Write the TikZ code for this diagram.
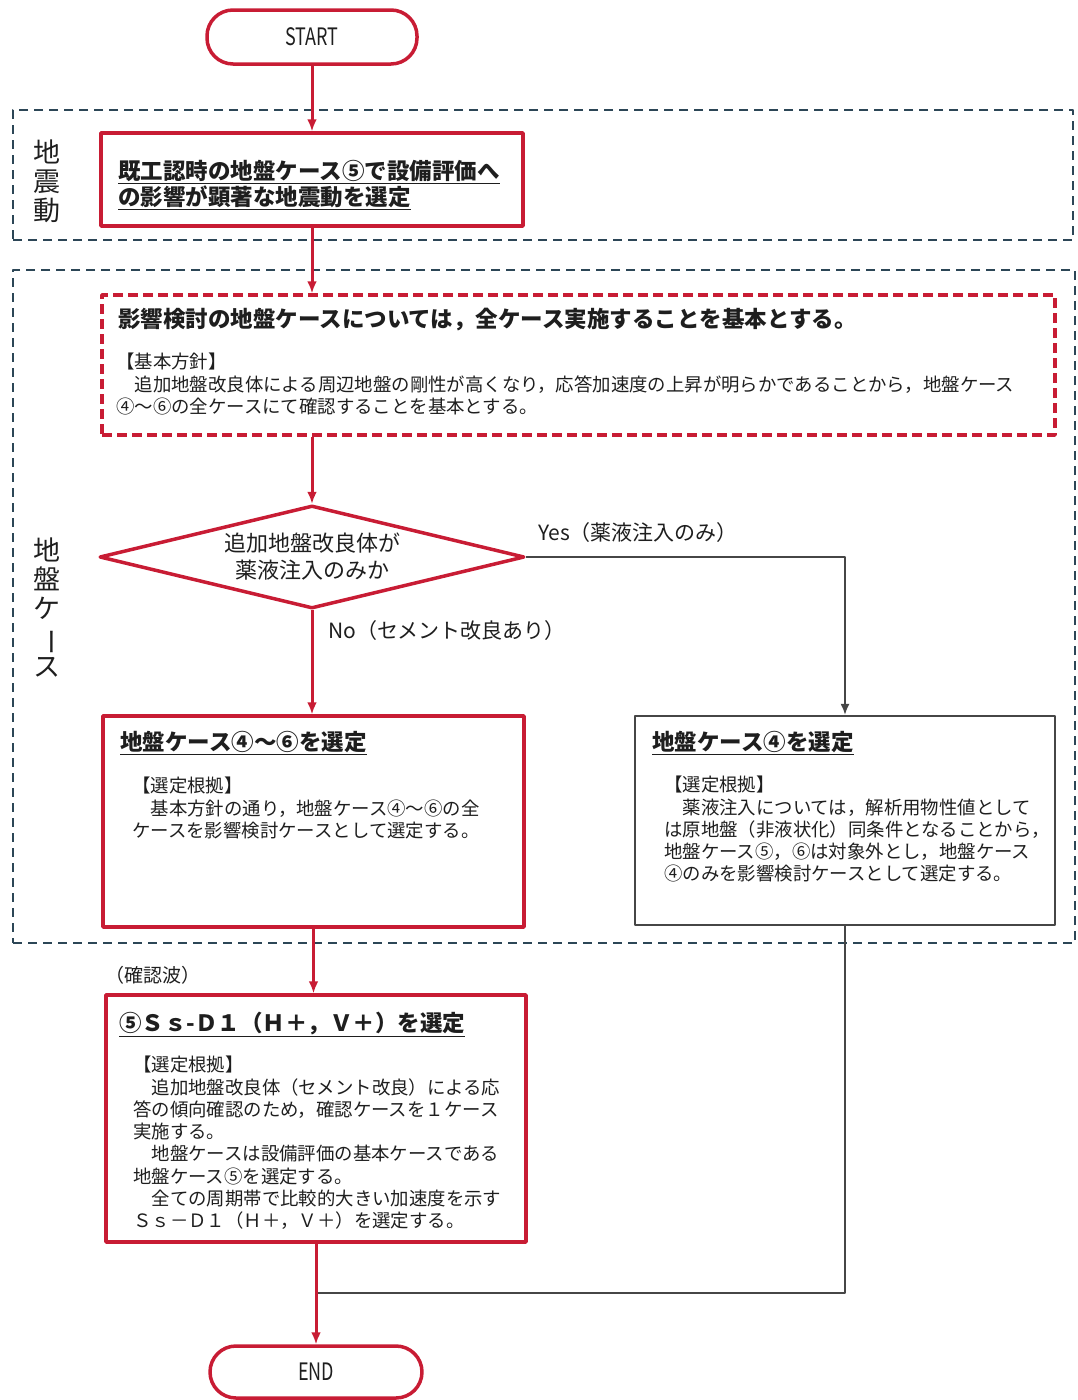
\documentclass[tikz,border=0pt]{standalone}
\usepackage{fontspec}
\setmainfont{Noto Sans CJK JP}
\usepackage{graphicx}
\usetikzlibrary{arrows.meta,shapes.geometric}
\definecolor{fcred}{RGB}{200,28,52}
\definecolor{fcgrp}{RGB}{44,70,86}
\definecolor{fcgray}{RGB}{70,70,70}
\definecolor{fcink}{RGB}{30,30,30}
\tikzset{
  fcbox/.style={draw=fcred, line width=3.5pt, inner sep=0pt},
  fcterm/.style={fcbox, rounded corners=26pt, font=\fontsize{24}{28}\selectfont},
  fcdash/.style={fcbox, dash pattern=on 10pt off 5pt},
  fcgrey/.style={draw=fcgray, line width=2.2pt, inner sep=0pt},
  fcdec/.style={fcbox, diamond, aspect=4.13, align=center, font=\fontsize{22}{27}\selectfont},
  grp/.style={draw=fcgrp, line width=1.7pt, dash pattern=on 9pt off 6pt, inner sep=0pt},
  arr/.style={-{Latex[length=12pt,width=10pt]}, draw=fcred, line width=3pt},
  garr/.style={-{Latex[length=11pt,width=9pt]}, draw=fcgray, line width=1.8pt},
  gline/.style={draw=fcgray, line width=1.8pt},
  ttl/.style={font=\fontsize{22.5}{26}\selectfont\bfseries, align=left, inner sep=0pt, anchor=north west},
  txt/.style={font=\fontsize{18.4}{22.3}\selectfont, align=left, inner sep=0pt, anchor=north west},
  lbl/.style={font=\fontsize{21}{24}\selectfont, inner sep=0pt, anchor=west},
  vlbl/.style={font=\fontsize{27}{29}\selectfont, align=center, inner sep=0pt},
  every picture/.append style={text=fcink, line join=round}
}

\begin{document}
\begin{tikzpicture}[x=1pt,y=-1pt]
  \useasboundingbox (0,0) rectangle (1078,1400);
  % groups
  \node[grp, minimum width=1060pt, minimum height=130pt] (gq) at (543,175) {};
  \node[grp, minimum width=1062pt, minimum height=673pt] (gg) at (544,606.5) {};
  \node[vlbl] (lq) at (47,181) {地\\震\\動};
  \node[vlbl] (lg) at (47,608) {地\\盤\\ケ\\\rotatebox[origin=c]{-90}{ー}\\ス};

  \node[fcterm, minimum width=210pt, minimum height=54pt] (start) at (312,37) {\scalebox{0.75}[1]{START}};
  \node[fcbox, minimum width=422pt, minimum height=93pt] (b1) at (312,179.5) {};
  \node[ttl] (b1t) at (118,160) {\underline{既工認時の地盤ケース⑤で設備評価へ}\\\underline{の影響が顕著な地震動を選定}};

  \node[fcdash, minimum width=953pt, minimum height=140pt] (b2) at (578.5,365) {};
  \node[ttl] (b2t) at (118,308) {影響検討の地盤ケースについては，全ケース実施することを基本とする。};
  \node[txt] (b2x) at (116,353) {【基本方針】\\　追加地盤改良体による周辺地盤の剛性が高くなり，応答加速度の上昇が明らかであることから，地盤ケース\\④～⑥の全ケースにて確認することを基本とする。};

  \node[fcdec, minimum width=425pt, minimum height=103pt] (dec) at (312,557) {追加地盤改良体が\\薬液注入のみか};
  \node[lbl] (yes) at (538,533) {Yes（薬液注入のみ）};
  \node[lbl] (no) at (328,631) {No（セメント改良あり）};

  \node[fcbox, minimum width=421pt, minimum height=211pt] (b3) at (313.5,821.5) {};
  \node[ttl] (b3t) at (120,731) {\underline{地盤ケース④～⑥を選定}};
  \node[txt] (b3x) at (132,777) {【選定根拠】\\　基本方針の通り，地盤ケース④～⑥の全\\ケースを影響検討ケースとして選定する。};

  \node[fcgrey, minimum width=420pt, minimum height=209pt] (b4) at (845,820.5) {};
  \node[ttl] (b4t) at (652,731) {\underline{地盤ケース④を選定}};
  \node[txt] (b4x) at (664,776) {【選定根拠】\\　薬液注入については，解析用物性値として\\は原地盤（非液状化）同条件となることから，\\地盤ケース⑤，⑥は対象外とし，地盤ケース\\④のみを影響検討ケースとして選定する。};

  \node[lbl, font=\fontsize{19}{23}\selectfont] (wave) at (105,975) {（確認波）};
  \node[fcbox, minimum width=420pt, minimum height=247pt] (b5) at (316,1118.5) {};
  \node[ttl] (b5t) at (119,1012) {\underline{⑤Ｓｓ-Ｄ１（Ｈ＋，Ｖ＋）を選定}};
  \node[txt] (b5x) at (133,1056) {【選定根拠】\\　追加地盤改良体（セメント改良）による応\\答の傾向確認のため，確認ケースを１ケース\\実施する。\\　地盤ケースは設備評価の基本ケースである\\地盤ケース⑤を選定する。\\　全ての周期帯で比較的大きい加速度を示す\\Ｓｓ－Ｄ１（Ｈ＋，Ｖ＋）を選定する。};

  \node[fcterm, minimum width=212pt, minimum height=52pt] (endn) at (316,1372) {\scalebox{0.75}[1]{END}};
  \coordinate (mrg) at (316,1293);

  % connectors
  \draw[arr] (start) -- (b1);
  \draw[arr] (b1.south) -- (b1.south |- b2.north);
  \draw[arr] (b2.south -| dec.north) -- (dec.north);
  \draw[arr] (dec.south) -- (dec.south |- b3.north);
  \draw[garr] (dec.east) -| (b4.north);
  \draw[arr] (b3.south) -- (b3.south |- b5.north);
  \draw[gline] (b4.south) |- (mrg);
  \draw[arr] (b5.south) -- (endn.north);
\end{tikzpicture}
\end{document}
